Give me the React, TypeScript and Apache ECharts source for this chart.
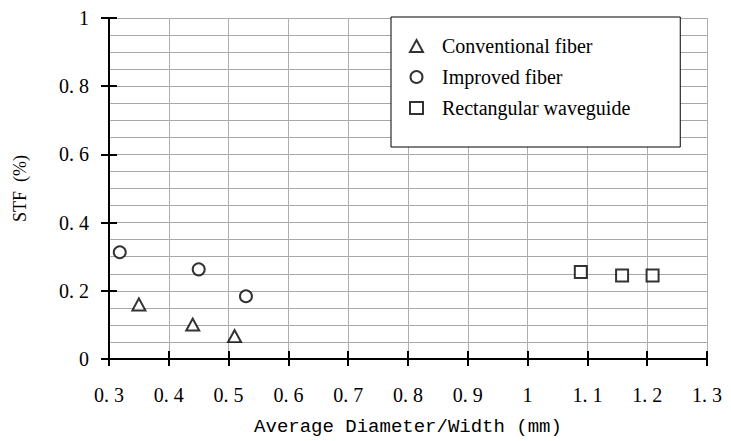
import React, { useEffect, useRef } from "react";
import * as echarts from "echarts";

const xTicks = [0.3, 0.4, 0.5, 0.6, 0.7, 0.8, 0.9, 1.0, 1.1, 1.2, 1.3];
const yTicks = [0, 0.2, 0.4, 0.6, 0.8, 1];

const conventionalX = [0.35, 0.44, 0.51];
const conventionalY = [0.16, 0.101, 0.067];
const improvedX = [0.318, 0.45, 0.529];
const improvedY = [0.313, 0.263, 0.184];
const rectX = [1.089, 1.158, 1.209];
const rectY = [0.255, 0.245, 0.245];

const seriesNames = ["Conventional fiber", "Improved fiber", "Rectangular waveguide"];

const SERIF = "'Liberation Serif', 'Times New Roman', serif";
const MONO = "'Liberation Mono', 'Courier New', monospace";

const fmt = (v: number) => {
  const r = Math.round(v * 10) / 10;
  const s = String(r);
  return s.replace(".", ". ");
};

export default function App() {
  const ref = useRef<HTMLDivElement>(null);
  useEffect(() => {
    if (!ref.current) return;
    const chart = echarts.init(ref.current, undefined, { renderer: "svg" });
    const pts = (xs: number[], ys: number[]) => xs.map((x, i) => [x, ys[i]]);
    const baseX = {
      type: "value" as const,
      min: xTicks[0],
      max: xTicks[xTicks.length - 1],
      interval: 0.1,
    };
    const baseY = {
      type: "value" as const,
      min: yTicks[0],
      max: yTicks[yTicks.length - 1],
      interval: 0.2,
    };
    const symStyle = { color: "#fff", borderColor: "#000", borderWidth: 2 };
    chart.setOption({
      animation: false,
      backgroundColor: "#fff",
      grid: { left: 109, right: 24, top: 18, bottom: 82 },
      legend: {
        orient: "vertical",
        left: 391,
        top: 17,
        padding: [19, 50, 29, 18],
        itemGap: 11,
        itemWidth: 13,
        itemHeight: 12,
        backgroundColor: "#fff",
        borderColor: "#000",
        borderWidth: 1,
        borderRadius: 0,
        textStyle: {
          fontFamily: SERIF,
          fontSize: 20,
          color: "#000",
          lineHeight: 20,
          padding: [0, 0, 0, 14],
        },
        data: seriesNames,
      },
      xAxis: [
        {
          ...baseX,
          name: "Average Diameter/Width (mm)",
          nameLocation: "middle",
          nameGap: 58,
          nameTextStyle: { fontFamily: MONO, fontSize: 19, color: "#000" },
          axisLine: { show: true, lineStyle: { color: "#000", width: 2 } },
          axisTick: { show: true, length: 7, lineStyle: { color: "#000", width: 2 } },
          axisLabel: {
            margin: 26,
            color: "#000",
            fontFamily: SERIF,
            fontSize: 20,
            formatter: fmt,
          },
          splitLine: { show: true, lineStyle: { color: "#b0b0b0", width: 1 } },
        },
        {
          ...baseX,
          position: "bottom",
          axisLine: { show: false },
          axisTick: { show: true, inside: true, length: 8, lineStyle: { color: "#000", width: 2 } },
          axisLabel: { show: false },
          splitLine: { show: false },
        },
      ],
      yAxis: [
        {
          ...baseY,
          name: "STF  (%)",
          nameLocation: "middle",
          nameGap: 80,
          nameRotate: 90,
          nameTextStyle: { fontFamily: SERIF, fontSize: 18, color: "#000" },
          axisLine: { show: true, lineStyle: { color: "#000", width: 2 } },
          axisTick: { show: true, length: 8, lineStyle: { color: "#000", width: 2 } },
          axisLabel: {
            margin: 20,
            color: "#000",
            fontFamily: SERIF,
            fontSize: 20,
            formatter: fmt,
          },
          splitLine: { show: true, lineStyle: { color: "#a8a8a8", width: 1 } },
          minorTick: { show: false, splitNumber: 4 },
          minorSplitLine: { show: true, lineStyle: { color: "#a8a8a8", width: 1 } },
        },
        {
          ...baseY,
          position: "left",
          axisLine: { show: false },
          axisTick: { show: true, inside: true, length: 8, lineStyle: { color: "#000", width: 2 } },
          axisLabel: { show: false },
          splitLine: { show: false },
        },
      ],
      series: [
        {
          name: seriesNames[0],
          type: "scatter",
          symbol: "triangle",
          symbolSize: [13, 12],
          itemStyle: symStyle,
          data: pts(conventionalX, conventionalY),
        },
        {
          name: seriesNames[1],
          type: "scatter",
          symbol: "circle",
          symbolSize: 12,
          itemStyle: symStyle,
          data: pts(improvedX, improvedY),
        },
        {
          name: seriesNames[2],
          type: "scatter",
          symbol: "rect",
          symbolSize: 12,
          itemStyle: symStyle,
          data: pts(rectX, rectY),
        },
      ],
    });
    return () => chart.dispose();
  }, []);
  return <div ref={ref} style={{ width: 731, height: 441, position: "absolute", left: 0, top: 0 }} />;
}
